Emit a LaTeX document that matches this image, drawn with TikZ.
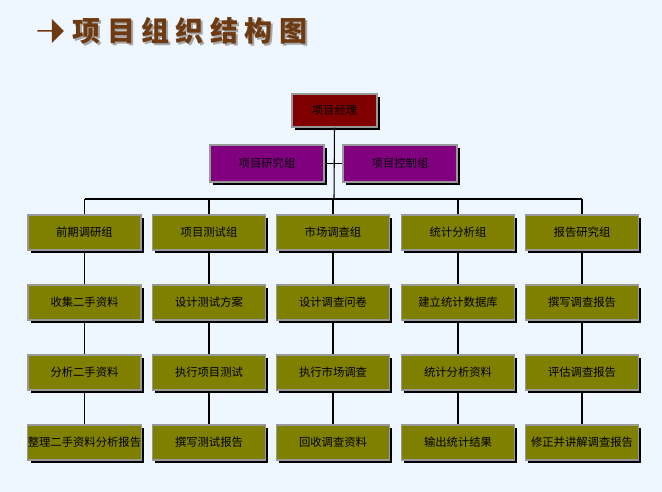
\documentclass[tikz,border=0pt]{standalone}
\usepackage{fontspec}
\usetikzlibrary{shapes.arrows,shadows}
\newfontfamily\cjk{Noto Sans CJK SC}
\begin{document}
\begin{tikzpicture}[x=0.75pt,y=-0.75pt,
 box/.style={draw=gray!80,line width=0.8pt,minimum width=113*0.75pt,minimum height=35*0.75pt,inner sep=0pt,font=\cjk\fontsize{8.5}{9}\selectfont,text=black,
   fill=olivebox,drop shadow={shadow xshift=2pt,shadow yshift=-2pt,fill=black,opacity=1}},
 ln/.style={black,line width=0.8pt}]
\definecolor{olivebox}{HTML}{7F7F00}
\definecolor{bg}{HTML}{EEF6FF}
\definecolor{tbrown}{HTML}{6E3A12}
\useasboundingbox (0,0) rectangle (662,492);
\fill[bg] (0,0) rectangle (662,492);
% title
\node[fill=tbrown,single arrow,minimum height=20pt,minimum width=18pt,single arrow head extend=3pt,inner sep=0pt,anchor=west] (arr) at (37,31) {};
\node[anchor=west,text=gray!70,font=\cjk\bfseries\fontsize{21}{24}\selectfont] at (70,33) {项 目 组 织 结 构 图};
\node[anchor=west,text=tbrown,font=\cjk\bfseries\fontsize{21}{24}\selectfont] (title) at (68,31) {项 目 组 织 结 构 图};
% top
\node[box,fill={rgb,255:red,128;green,0;blue,0},minimum width=85*0.75pt,minimum height=33*0.75pt] (pm) at (334.5,110.5) {项目经理};
\node[box,fill={rgb,255:red,128;green,0;blue,128},minimum width=114*0.75pt,minimum height=37*0.75pt] (rg) at (267,163.5) {项目研究组};
\node[box,fill={rgb,255:red,128;green,0;blue,128},minimum width=114*0.75pt,minimum height=37*0.75pt] (cg) at (400,163.5) {项目控制组};
\coordinate (hub) at (334,199);
\draw[ln] (pm.south) -- (hub);
\draw[ln] (rg.east) -- (cg.west);
% columns
\foreach \i/\x/\a/\b/\c/\d in {1/84.5/前期调研组/收集二手资料/分析二手资料/整理二手资料分析报告,
 2/209/项目测试组/设计测试方案/执行项目测试/撰写测试报告,
 3/333/市场调查组/设计调查问卷/执行市场调查/回收调查资料,
 4/458/统计分析组/建立统计数据库/统计分析资料/输出统计结果,
 5/582/报告研究组/撰写调查报告/评估调查报告/修正并讲解调查报告}{
 \node[box] (a\i) at (\x,232.5) {\a};
 \node[box] (b\i) at (\x,302.5) {\b};
 \node[box] (c\i) at (\x,372.5) {\c};
 \node[box] (d\i) at (\x,442.5) {\d};
 \draw[ln] (a\i.north) -- (\x,199);
 \draw[ln] (a\i) -- (b\i) (b\i) -- (c\i) (c\i) -- (d\i);
}
\draw[ln] (a1.north |- hub) -- (a5.north |- hub);
\end{tikzpicture}
\end{document}
